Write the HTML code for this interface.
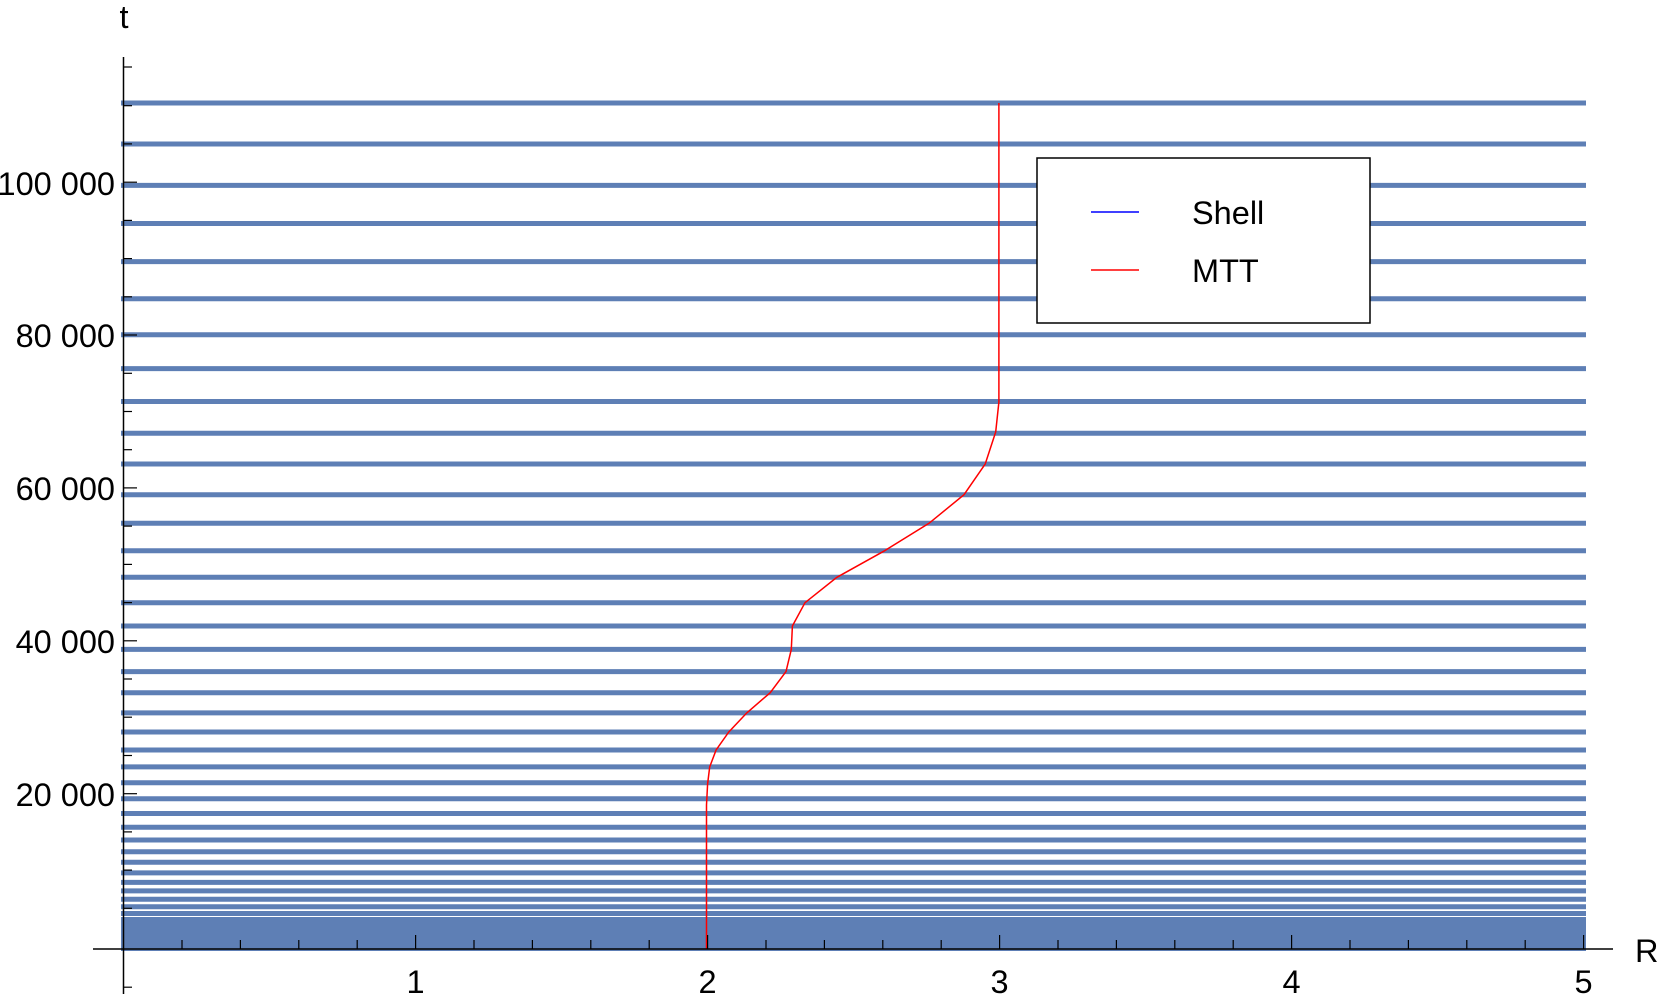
<!DOCTYPE html>
<html><head><meta charset="utf-8"><style>body{margin:0;background:#fff}svg{display:block}</style></head>
<body>
<svg width="1661" height="999" viewBox="0 0 1661 999" xmlns="http://www.w3.org/2000/svg" font-family="Liberation Sans, sans-serif">
<g stroke="#5e7fb5" stroke-width="5">
<line x1="121" x2="1586" y1="103" y2="103"/><line x1="121" x2="1586" y1="144" y2="144"/><line x1="121" x2="1586" y1="185.4" y2="185.4"/><line x1="121" x2="1586" y1="223.5" y2="223.5"/><line x1="121" x2="1586" y1="261.6" y2="261.6"/><line x1="121" x2="1586" y1="298.7" y2="298.7"/><line x1="121" x2="1586" y1="334.7" y2="334.7"/><line x1="121" x2="1586" y1="368.6" y2="368.6"/><line x1="121" x2="1586" y1="401.5" y2="401.5"/><line x1="121" x2="1586" y1="433.3" y2="433.3"/><line x1="121" x2="1586" y1="464" y2="464"/><line x1="121" x2="1586" y1="494.7" y2="494.7"/><line x1="121" x2="1586" y1="523.3" y2="523.3"/><line x1="121" x2="1586" y1="550.8" y2="550.8"/><line x1="121" x2="1586" y1="577.3" y2="577.3"/><line x1="121" x2="1586" y1="602.7" y2="602.7"/><line x1="121" x2="1586" y1="626" y2="626"/><line x1="121" x2="1586" y1="649.4" y2="649.4"/><line x1="121" x2="1586" y1="671.6" y2="671.6"/><line x1="121" x2="1586" y1="692.8" y2="692.8"/><line x1="121" x2="1586" y1="712.9" y2="712.9"/><line x1="121" x2="1586" y1="732" y2="732"/><line x1="121" x2="1586" y1="750" y2="750"/><line x1="121" x2="1586" y1="766.9" y2="766.9"/><line x1="121" x2="1586" y1="782.8" y2="782.8"/><line x1="121" x2="1586" y1="798.7" y2="798.7"/><line x1="121" x2="1586" y1="813.5" y2="813.5"/><line x1="121" x2="1586" y1="827.3" y2="827.3"/><line x1="121" x2="1586" y1="840" y2="840"/><line x1="121" x2="1586" y1="851.7" y2="851.7"/><line x1="121" x2="1586" y1="862.3" y2="862.3"/><line x1="121" x2="1586" y1="872.9" y2="872.9"/><line x1="121" x2="1586" y1="882.4" y2="882.4"/><line x1="121" x2="1586" y1="890.9" y2="890.9"/><line x1="121" x2="1586" y1="899.3" y2="899.3"/><line x1="121" x2="1586" y1="906.8" y2="906.8"/><line x1="121" x2="1586" y1="913.5" y2="913.5"/><line x1="121" x2="1586" y1="919.5" y2="919.5"/>
</g>
<rect x="121" y="922" width="1465" height="29" fill="#5e7fb5"/>
<polyline fill="none" stroke="#ff0000" stroke-width="1.5" points="998.9,103 998.9,402 995.7,432 985.2,464 964,494.7 929,523.3 884.5,550.8 836.9,577.3 805,602.7 792.4,626 791.3,649.4 786,671.6 770.1,692.8 746.8,712.9 728.8,732 716.1,750 709.7,766.9 707.6,784 706.5,805 706.5,949"/>
<g stroke="#000" stroke-width="1.5">
<line x1="123.5" y1="57" x2="123.5" y2="994"/>
<line x1="93" y1="949" x2="1613" y2="949"/>
</g>
<g stroke="#000" stroke-width="1.2">
<line x1="124" x2="132" y1="67" y2="67"/><line x1="124" x2="132" y1="105.7" y2="105.7"/><line x1="124" x2="132" y1="143.9" y2="143.9"/><line x1="124" x2="137" y1="182.2" y2="182.2"/><line x1="124" x2="132" y1="220.4" y2="220.4"/><line x1="124" x2="132" y1="258.6" y2="258.6"/><line x1="124" x2="132" y1="296.8" y2="296.8"/><line x1="124" x2="137" y1="335" y2="335"/><line x1="124" x2="132" y1="373.3" y2="373.3"/><line x1="124" x2="132" y1="411.5" y2="411.5"/><line x1="124" x2="132" y1="449.7" y2="449.7"/><line x1="124" x2="137" y1="487.9" y2="487.9"/><line x1="124" x2="132" y1="526.1" y2="526.1"/><line x1="124" x2="132" y1="564.4" y2="564.4"/><line x1="124" x2="132" y1="602.6" y2="602.6"/><line x1="124" x2="137" y1="640.8" y2="640.8"/><line x1="124" x2="132" y1="679" y2="679"/><line x1="124" x2="132" y1="717.2" y2="717.2"/><line x1="124" x2="132" y1="755.5" y2="755.5"/><line x1="124" x2="137" y1="793.7" y2="793.7"/><line x1="124" x2="132" y1="831.9" y2="831.9"/><line x1="124" x2="132" y1="870.1" y2="870.1"/><line x1="124" x2="132" y1="908.3" y2="908.3"/><line x1="124" x2="132" y1="987.2" y2="987.2"/>
</g>
<g stroke="#000" stroke-width="1.2">
<line y1="949" y2="940" x1="182" x2="182"/><line y1="949" y2="940" x1="240.4" x2="240.4"/><line y1="949" y2="940" x1="298.8" x2="298.8"/><line y1="949" y2="940" x1="357.2" x2="357.2"/><line y1="949" y2="935" x1="415.6" x2="415.6"/>
<line y1="949" y2="940" x1="474" x2="474"/><line y1="949" y2="940" x1="532.4" x2="532.4"/><line y1="949" y2="940" x1="590.8" x2="590.8"/><line y1="949" y2="940" x1="649.2" x2="649.2"/><line y1="949" y2="935" x1="707.6" x2="707.6"/>
<line y1="949" y2="940" x1="766" x2="766"/><line y1="949" y2="940" x1="824.4" x2="824.4"/><line y1="949" y2="940" x1="882.8" x2="882.8"/><line y1="949" y2="940" x1="941.2" x2="941.2"/><line y1="949" y2="935" x1="999.6" x2="999.6"/>
<line y1="949" y2="940" x1="1058" x2="1058"/><line y1="949" y2="940" x1="1116.4" x2="1116.4"/><line y1="949" y2="940" x1="1174.8" x2="1174.8"/><line y1="949" y2="940" x1="1233.2" x2="1233.2"/><line y1="949" y2="935" x1="1291.6" x2="1291.6"/>
<line y1="949" y2="940" x1="1350" x2="1350"/><line y1="949" y2="940" x1="1408.4" x2="1408.4"/><line y1="949" y2="940" x1="1466.8" x2="1466.8"/><line y1="949" y2="940" x1="1525.2" x2="1525.2"/><line y1="949" y2="935" x1="1583.6" x2="1583.6"/>
</g>
<g font-size="32.5" fill="#000" text-anchor="end">
<text x="115" y="195">100 000</text><text x="115" y="347">80 000</text><text x="115" y="500">60 000</text><text x="115" y="653">40 000</text><text x="115" y="806">20 000</text>
</g>
<g font-size="32.5" fill="#000" text-anchor="middle">
<text x="415.6" y="993">1</text><text x="707.6" y="993">2</text><text x="999.6" y="993">3</text><text x="1291.6" y="993">4</text><text x="1583.6" y="993">5</text>
<text x="124" y="28">t</text>
</g>
<text x="1635" y="962" font-size="32.5">R</text>
<rect x="1037" y="158" width="333" height="165" fill="#fff" stroke="#000" stroke-width="1.5"/>
<line x1="1091" x2="1139" y1="212" y2="212" stroke="#0000ff" stroke-width="1.5"/>
<line x1="1091" x2="1139" y1="270" y2="270" stroke="#ff0000" stroke-width="1.5"/>
<text x="1192" y="224" font-size="32.5">Shell</text>
<text x="1192" y="282" font-size="32.5">MTT</text>
</svg>
</body></html>
